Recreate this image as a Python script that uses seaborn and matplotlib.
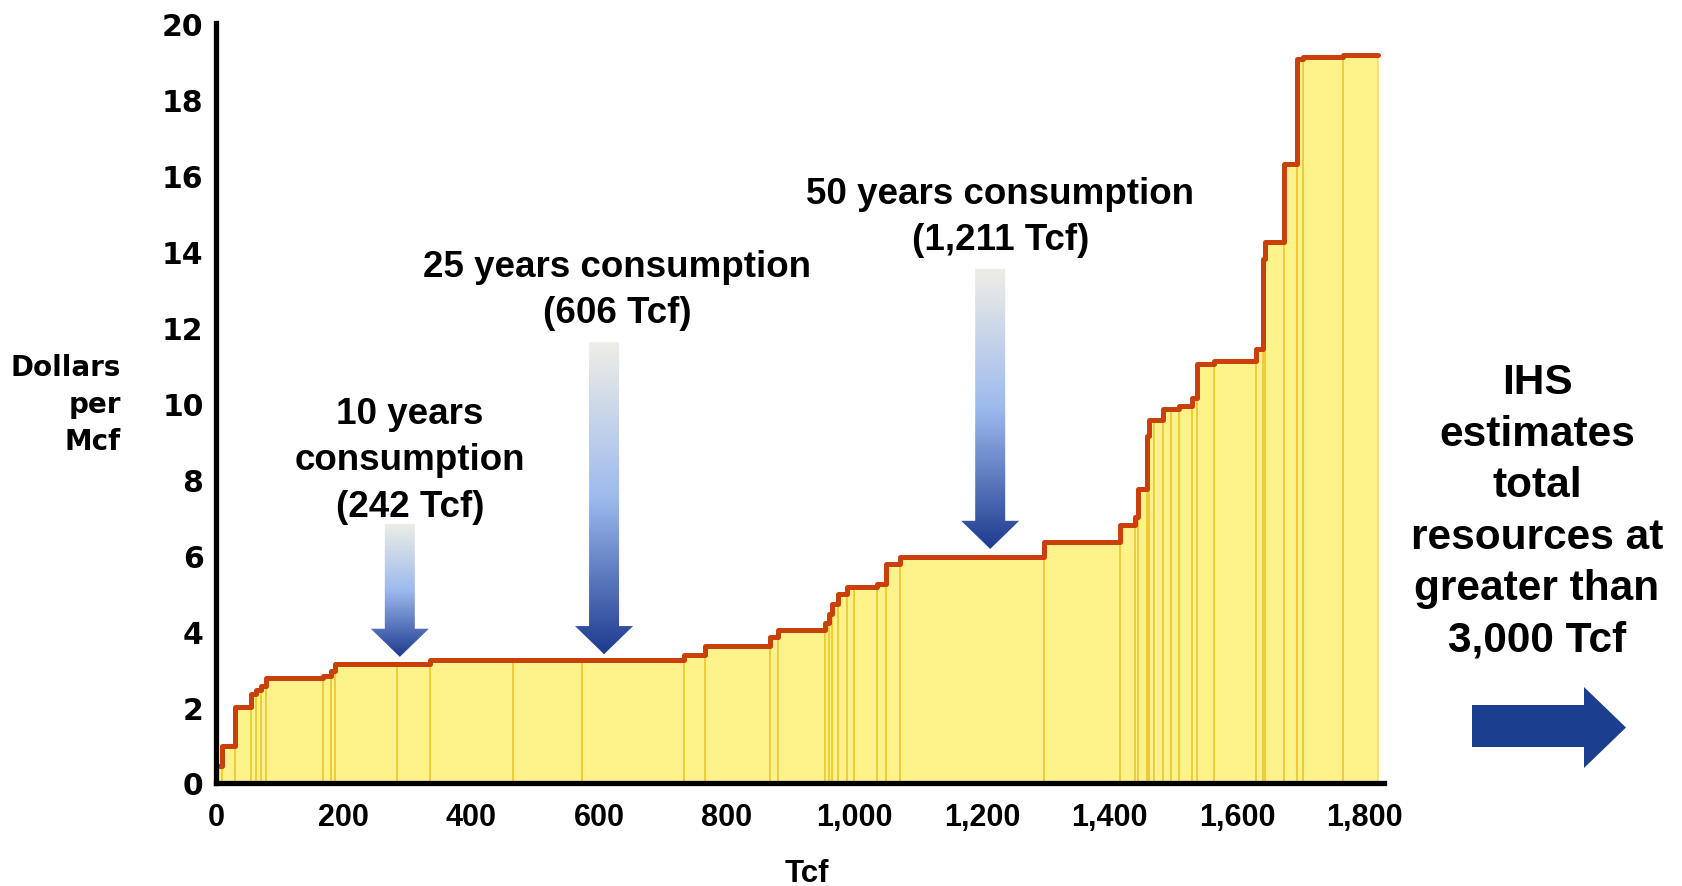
import numpy as np
import pandas as pd
import matplotlib
matplotlib.use("Agg")
import matplotlib.pyplot as plt
import seaborn as sns
from matplotlib.patches import Polygon
from matplotlib.colors import LinearSegmentedColormap

# ---------------- data ----------------
seg_start = [0, 9, 30, 55, 62, 70, 78, 168, 180, 186, 283, 335, 465, 573, 734, 766,
             868, 881, 954, 960, 965, 975, 988, 1000, 1035, 1049, 1071, 1298, 1416,
             1440, 1445, 1458, 1462, 1470, 1484, 1496, 1509, 1529, 1537, 1563, 1630,
             1641, 1644, 1674, 1694, 1703, 1765]
seg_price = [0.45, 0.97, 2.0, 2.33, 2.45, 2.55, 2.77, 2.82, 2.95, 3.13, 3.14, 3.25,
             3.25, 3.25, 3.38, 3.6, 3.83, 4.03, 4.2, 4.45, 4.7, 4.97, 5.15, 5.15, 5.24,
             5.76, 5.95, 6.35, 6.8, 7.0, 7.75, 9.13, 9.56, 9.56, 9.84, 9.84, 9.93,
             10.13, 11.03, 11.11, 11.42, 13.8, 14.24, 16.3, 19.05, 19.1, 19.15]
seg_end = 1821

x_ticks = [0, 200, 400, 600, 800, 1000, 1200, 1400, 1600, 1800]
x_tick_labels = ["0", "200", "400", "600", "800", "1,000", "1,200", "1,400", "1,600", "1,800"]
y_ticks = [0, 2, 4, 6, 8, 10, 12, 14, 16, 18, 20]

note_texts = ["10 years\nconsumption\n(242 Tcf)",
              "25 years consumption\n(606 Tcf)",
              "50 years consumption\n(1,211 Tcf)"]
note_x = [304, 628, 1229]
note_y = [8.5, 12.98, 14.9]

arrow_x = [288, 608, 1213]
arrow_top = [6.82, 11.6, 13.53]
arrow_tip = [3.32, 3.39, 6.16]

side_text = "IHS\nestimates\ntotal\nresources at\ngreater than\n3,000 Tcf"

# ---------------- figure ----------------
sns.set_style("white")
plt.rcParams['font.family'] = ['Liberation Sans', 'DejaVu Sans']
plt.rcParams['text.color'] = 'black'
plt.rcParams['axes.labelcolor'] = 'black'
plt.rcParams['xtick.color'] = 'black'
plt.rcParams['ytick.color'] = 'black'

W, H = 1682, 887
fig = plt.figure(figsize=(W / 100, H / 100), dpi=100)
ax = fig.add_axes([216 / W, 1 - 784 / H, (1384 - 216) / W, (784 - 24) / H])

xs = np.array(seg_start + [seg_end], dtype=float)
ys = np.array(seg_price + [seg_price[-1]], dtype=float)
df = pd.DataFrame({"Tcf": xs, "price": ys})

fill_col = "#FEF38A"
line_col = "#C9400C"
sep_col = "#EFCB3A"

ax.fill_between(df["Tcf"], 0, df["price"], step="post", color=fill_col, lw=0, zorder=1)
ax.vlines(seg_start[1:], 0, seg_price[:-1], color=sep_col, lw=1.4, zorder=2)
ax.vlines([seg_end], 0, seg_price[-1], color="#F3DB6A", lw=1.2, zorder=2)
sns.lineplot(data=df, x="Tcf", y="price", drawstyle="steps-post", color=line_col,
             lw=3.6, ax=ax, zorder=4, legend=False)

ax.set_xlim(0, 1830)
ax.set_ylim(0, 20)

# gradient arrows
cmap = LinearSegmentedColormap.from_list(
    "arr", [(0.0, "#EEEEE6"), (0.5, "#9DBAEE"), (1.0, "#1D3B8F")])
grad = np.linspace(0, 1, 256).reshape(-1, 1)
sw, hw, hl = 23.5, 45.5, 0.74
for xc, top, tip in zip(arrow_x, arrow_top, arrow_tip):
    ht = tip + hl
    pts = [(xc - sw, top), (xc + sw, top), (xc + sw, ht), (xc + hw, ht),
           (xc, tip), (xc - hw, ht), (xc - sw, ht)]
    poly = Polygon(pts, closed=True, transform=ax.transData)
    im = ax.imshow(grad, cmap=cmap, extent=[xc - hw, xc + hw, tip, top],
                   aspect="auto", origin="upper", zorder=6)
    im.set_clip_path(poly)

ax.set_xlim(0, 1830)
ax.set_ylim(0, 20)

for t, x, y in zip(note_texts, note_x, note_y):
    ax.text(x, y, t, ha="center", va="center", fontsize=26.5, fontweight="bold",
            family=["Liberation Sans", "DejaVu Sans"], color="black",
            linespacing=1.42, zorder=7)

# axes styling
for s in ["top", "right"]:
    ax.spines[s].set_visible(False)
for s in ["left", "bottom"]:
    ax.spines[s].set_linewidth(3.8)
    ax.spines[s].set_color("black")
    ax.spines[s].set_zorder(8)

ax.set_xticks(x_ticks)
ax.set_xticklabels(x_tick_labels)
ax.set_yticks(y_ticks)
ax.tick_params(axis="x", direction="in", length=9.5, width=3, pad=14,
               labelsize=22, colors="black")
ax.tick_params(axis="y", direction="in", length=13, width=3, pad=9,
               labelsize=21.5, colors="black")
for lab in ax.get_xticklabels():
    lab.set_fontweight("bold")
    lab.set_family(["Liberation Sans", "DejaVu Sans"])
for lab in ax.get_yticklabels():
    lab.set_fontweight("bold")
    lab.set_family(["DejaVu Sans"])

ax.set_xlabel("")
ax.set_ylabel("")
fig.text((807) / W, 1 - 874 / H, "Tcf", ha="center", va="center", fontsize=22.5,
         fontweight="bold", family=["Liberation Sans", "DejaVu Sans"], color="black")
fig.text(121 / W, 1 - 405 / H, "Dollars\nper\nMcf", ha="right", va="center",
         fontsize=20, fontweight="bold", family=["DejaVu Sans"], linespacing=1.42,
         color="black")

fig.text(1537 / W, 1 - 512 / H, side_text, ha="center", va="center", fontsize=30.5,
         fontweight="bold", family=["Liberation Sans", "DejaVu Sans"], linespacing=1.37,
         color="black")

# right blue arrow (figure pixel coordinates)
ra = [(1472, 706), (1584, 706), (1584, 688), (1626, 728.5), (1584, 769),
      (1584, 748), (1472, 748)]
ra_fig = [(px / W, 1 - py / H) for px, py in ra]
fig.patches.append(Polygon(ra_fig, closed=True, transform=fig.transFigure,
                           facecolor="#1B3F8E", edgecolor="none"))

fig.savefig("out.png", dpi=100)
